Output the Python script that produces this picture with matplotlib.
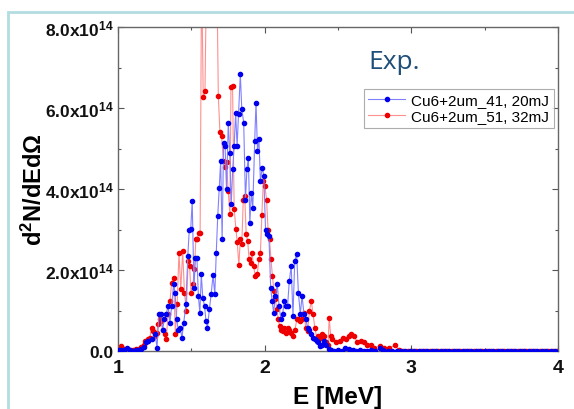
import matplotlib
matplotlib.use("Agg")
import matplotlib.pyplot as plt
from matplotlib.patches import Rectangle
from matplotlib.ticker import MultipleLocator, FixedLocator

plt.rcParams['font.family'] = ['Liberation Sans', 'DejaVu Sans']
plt.rcParams['mathtext.fontset'] = 'custom'
plt.rcParams['mathtext.rm'] = 'Liberation Sans:bold'
plt.rcParams['mathtext.it'] = 'Liberation Sans:bold'
plt.rcParams['mathtext.bf'] = 'Liberation Sans:bold'

# ---------------- data (values in units of 1e14) ----------------
blue_E = [1.00, 1.02, 1.04, 1.06, 1.08, 1.10, 1.12, 1.14, 1.16, 1.18,
          1.192, 1.204, 1.229, 1.254, 1.266, 1.279, 1.291, 1.304, 1.316, 1.329,
          1.341, 1.354, 1.366, 1.379, 1.389, 1.399, 1.411, 1.423, 1.436, 1.448,
          1.463, 1.476, 1.486, 1.496, 1.506, 1.518, 1.528, 1.538, 1.548, 1.558,
          1.568, 1.578, 1.590, 1.600, 1.610, 1.623, 1.635, 1.648, 1.660, 1.670,
          1.680, 1.690, 1.700, 1.710, 1.720, 1.730, 1.740, 1.752, 1.762, 1.772,
          1.782, 1.792, 1.802, 1.812, 1.822, 1.834, 1.844, 1.857, 1.869, 1.879,
          1.889, 1.899, 1.909, 1.919, 1.932, 1.941, 1.951, 1.961, 1.971, 1.984,
          1.994, 2.006, 2.016, 2.029, 2.041, 2.051, 2.061, 2.073, 2.086, 2.098,
          2.111, 2.123, 2.133, 2.143, 2.156, 2.168, 2.181, 2.193, 2.205, 2.218,
          2.230, 2.243, 2.255, 2.268, 2.280, 2.293, 2.305, 2.318, 2.330, 2.342,
          2.355, 2.367, 2.380, 2.392, 2.407, 2.420, 2.440, 2.455, 2.475, 2.500,
          2.525, 2.549, 2.574, 2.600, 2.625, 2.650, 2.675, 2.700, 2.725, 2.750,
          2.786, 2.810, 2.840, 2.870, 2.900, 2.930, 2.960, 2.990, 3.020, 3.050,
          3.080, 3.110, 3.140, 3.170, 3.200, 3.230, 3.260, 3.290, 3.320, 3.350,
          3.380, 3.410, 3.440, 3.470, 3.500, 3.530, 3.560, 3.590, 3.620, 3.650,
          3.680, 3.710, 3.740, 3.770, 3.800, 3.830, 3.860, 3.890, 3.920, 3.950,
          3.980]
blue_v = [0.02, 0.03, 0.02, 0.07, 0.02, 0.01, 0.02, 0.03, 0.05, 0.10,
          0.21, 0.25, 0.29, 0.41, 0.08, 0.91, 0.91, 0.53, 0.78, 0.91,
          1.11, 0.70, 1.11, 1.65, 1.44, 0.78, 0.53, 0.58, 0.33, 0.70,
          1.15, 2.35, 3.00, 3.02, 3.70, 1.56, 2.30, 2.30, 1.36, 0.95,
          1.89, 1.32, 1.11, 0.74, 0.58, 1.03, 1.40, 1.87, 1.40, 2.43,
          3.33, 4.03, 4.69, 2.76, 5.14, 5.06, 3.99, 5.64, 4.90, 3.62,
          4.49, 5.06, 5.88, 5.06, 5.84, 6.83, 5.97, 5.64, 3.74, 4.49,
          4.77, 3.17, 3.91, 3.54, 5.19, 6.13, 4.94, 5.23, 4.20, 4.53,
          4.32, 3.00, 2.88, 2.84, 1.56, 1.23, 0.95, 1.36, 1.65, 1.11,
          0.78, 0.91, 1.23, 1.11, 1.11, 1.73, 2.10, 0.86, 2.22, 2.39,
          1.44, 0.91, 1.36, 0.91, 0.78, 0.58, 0.53, 0.41, 0.33, 0.29,
          0.25, 0.21, 0.12, 0.16, 0.25, 0.15, 0.05, 0.02, 0.0, 0.03,
          0.0, 0.08, 0.04, 0.02, 0.0, 0.03, 0.01, 0.0, 0.02, 0.0,
          0.08, 0.02, 0.0, 0.01, 0.0, 0.0, 0.0, 0.0, 0.0, 0.0,
          0.0, 0.0, 0.0, 0.0, 0.0, 0.0, 0.0, 0.0, 0.0, 0.0,
          0.0, 0.0, 0.0, 0.0, 0.0, 0.0, 0.0, 0.0, 0.0, 0.0,
          0.0, 0.0, 0.0, 0.0, 0.0, 0.0, 0.0, 0.0, 0.0, 0.0,
          0.0]

red_E = [1.00, 1.02, 1.04, 1.06, 1.08, 1.10, 1.12, 1.14, 1.16, 1.175,
         1.187, 1.204, 1.217, 1.229, 1.242, 1.254, 1.264, 1.274, 1.284, 1.294,
         1.306, 1.319, 1.329, 1.341, 1.354, 1.366, 1.379, 1.391, 1.403, 1.416,
         1.428, 1.441, 1.453, 1.466, 1.478, 1.488, 1.498, 1.511, 1.521, 1.531,
         1.540, 1.550, 1.560, 1.570, 1.581, 1.593, 1.605, 1.620, 1.640, 1.660,
         1.675, 1.684, 1.695, 1.706, 1.718, 1.729, 1.740, 1.751, 1.763, 1.770,
         1.781, 1.792, 1.804, 1.813, 1.824, 1.834, 1.844, 1.854, 1.864, 1.874,
         1.884, 1.894, 1.904, 1.914, 1.924, 1.936, 1.949, 1.961, 1.971, 1.981,
         1.991, 2.001, 2.013, 2.023, 2.033, 2.043, 2.053, 2.063, 2.073, 2.083,
         2.093, 2.103, 2.113, 2.125, 2.135, 2.145, 2.157, 2.167, 2.180, 2.192,
         2.207, 2.219, 2.230, 2.243, 2.255, 2.268, 2.280, 2.293, 2.305, 2.318,
         2.330, 2.342, 2.355, 2.367, 2.380, 2.392, 2.405, 2.420, 2.432, 2.440,
         2.450, 2.462, 2.487, 2.512, 2.537, 2.557, 2.574, 2.591, 2.611, 2.631,
         2.656, 2.676, 2.699, 2.723, 2.748, 2.786, 2.816, 2.848, 2.890, 2.915,
         2.945, 2.975, 3.005, 3.035, 3.065, 3.095, 3.125, 3.155, 3.185, 3.215,
         3.245, 3.275, 3.305, 3.335, 3.365, 3.395, 3.425, 3.455, 3.485, 3.515,
         3.545, 3.575, 3.605, 3.635, 3.665, 3.695, 3.725, 3.755, 3.785, 3.815,
         3.845, 3.875, 3.905, 3.935, 3.965, 3.995]
red_v = [0.05, 0.12, 0.04, 0.03, 0.02, 0.03, 0.05, 0.06, 0.10, 0.15,
         0.25, 0.29, 0.33, 0.58, 0.49, 0.37, 0.45, 0.66, 0.78, 0.74,
         0.53, 0.41, 0.29, 0.91, 1.23, 1.69, 1.81, 0.41, 1.15, 2.43,
         1.52, 2.47, 1.44, 0.99, 2.22, 2.10, 1.44, 1.65, 2.02, 2.76,
         2.76, 2.92, 2.92, 9.50, 6.26, 6.41, 9.80, 12.0, 13.0, 11.0,
         9.00, 6.29, 5.40, 5.32, 4.70, 4.54, 4.66, 3.96, 3.38, 6.51,
         6.55, 3.51, 3.01, 2.68, 2.12, 2.76, 2.63, 3.74, 3.83, 2.88,
         2.72, 2.26, 2.18, 2.43, 2.10, 1.85, 1.89, 2.26, 2.43, 3.37,
         4.20, 4.07, 3.74, 3.00, 2.76, 2.26, 1.85, 1.48, 1.28, 1.03,
         0.78, 0.62, 0.53, 0.49, 0.58, 0.45, 0.58, 0.53, 0.45, 0.37,
         0.53, 0.78, 0.78, 0.74, 0.78, 0.95, 0.58, 0.49, 0.99, 1.23,
         0.91, 0.58, 0.33, 0.37, 0.33, 0.41, 0.37, 0.21, 0.16, 0.82,
         0.37, 0.29, 0.21, 0.25, 0.33, 0.29, 0.37, 0.41, 0.37, 0.21,
         0.25, 0.21, 0.16, 0.16, 0.08, 0.12, 0.08, 0.08, 0.14, 0.02,
         0.01, 0.0, 0.01, 0.0, 0.01, 0.0, 0.0, 0.01, 0.0, 0.0,
         0.01, 0.0, 0.0, 0.0, 0.01, 0.0, 0.0, 0.0, 0.0, 0.01,
         0.0, 0.0, 0.0, 0.0, 0.0, 0.0, 0.01, 0.0, 0.0, 0.0,
         0.0, 0.0, 0.0, 0.0, 0.0, 0.0]

SCALE = 1e14
y_ticks = [0, 2e14, 4e14, 6e14, 8e14]
y_tick_labels = ['0.0', '2.0x10$^{14}$', '4.0x10$^{14}$', '6.0x10$^{14}$', '8.0x10$^{14}$']
x_ticks = [1, 2, 3, 4]
labels = ['Cu6+2um_41, 20mJ', 'Cu6+2um_51, 32mJ']

# ---------------- figure ----------------
fig = plt.figure(figsize=(5.74, 4.10), dpi=100)
fig.patch.set_facecolor('white')
# light teal frame around the slide region
fig.patches.append(Rectangle((8/574, -0.05), 1.2, 1 - 13/410 + 0.05,
                             transform=fig.transFigure, fill=False,
                             edgecolor='#b3dde0', lw=2.0))

ax = fig.add_axes([118/574, 1 - 352/410, 440/574, 324/410])

ax.plot(blue_E, [v * SCALE for v in blue_v], color='#8080ff', lw=0.8,
        marker='o', ms=3.0, mfc='#0000ee', mec='#0000ee', label=labels[0], zorder=3)
ax.plot(red_E, [v * SCALE for v in red_v], color='#ff9090', lw=0.8,
        marker='o', ms=3.0, mfc='#ee0000', mec='#ee0000', label=labels[1], zorder=2)

ax.set_xlim(1, 4)
ax.set_ylim(0, 8e14)
ax.xaxis.set_major_locator(FixedLocator(x_ticks))
ax.xaxis.set_minor_locator(MultipleLocator(0.5))
ax.yaxis.set_major_locator(FixedLocator(y_ticks))
ax.yaxis.set_minor_locator(MultipleLocator(1e14))
ax.set_yticklabels(y_tick_labels)
ax.set_xticklabels([str(t) for t in x_ticks])

ax.tick_params(which='both', direction='in', top=True, right=True, color='#555555')
ax.tick_params(which='major', length=4, width=0.8)
ax.tick_params(which='minor', length=2.5, width=0.8)
ax.tick_params(axis='y', labelsize=12.5, pad=3)
ax.tick_params(axis='x', labelsize=14, pad=6)
for lab in ax.get_xticklabels() + ax.get_yticklabels():
    lab.set_fontweight('bold')
    lab.set_color('#111111')
for sp in ax.spines.values():
    sp.set_color('#666666')
    sp.set_linewidth(1.0)

ax.set_xlabel('E [MeV]', fontsize=17.5, fontweight='bold', labelpad=6)
ax.set_ylabel(r'd$^{2}$N/dEd$\Omega$', fontsize=17, fontweight='bold', labelpad=-1)

ax.text(2.71, 7.15e14, 'Exp.', fontsize=19, color='#1f4e79',
        family='Open Sans', va='center', ha='left')

leg = ax.legend(loc='upper right', bbox_to_anchor=(0.99, 0.81), fontsize=11,
                frameon=True, fancybox=False, handlelength=2.4, borderpad=0.3,
                labelspacing=0.15, handletextpad=0.4, borderaxespad=0.0)
leg.get_frame().set_edgecolor('#999999')
leg.get_frame().set_linewidth(0.8)

fig.savefig('out.png', dpi=100)
